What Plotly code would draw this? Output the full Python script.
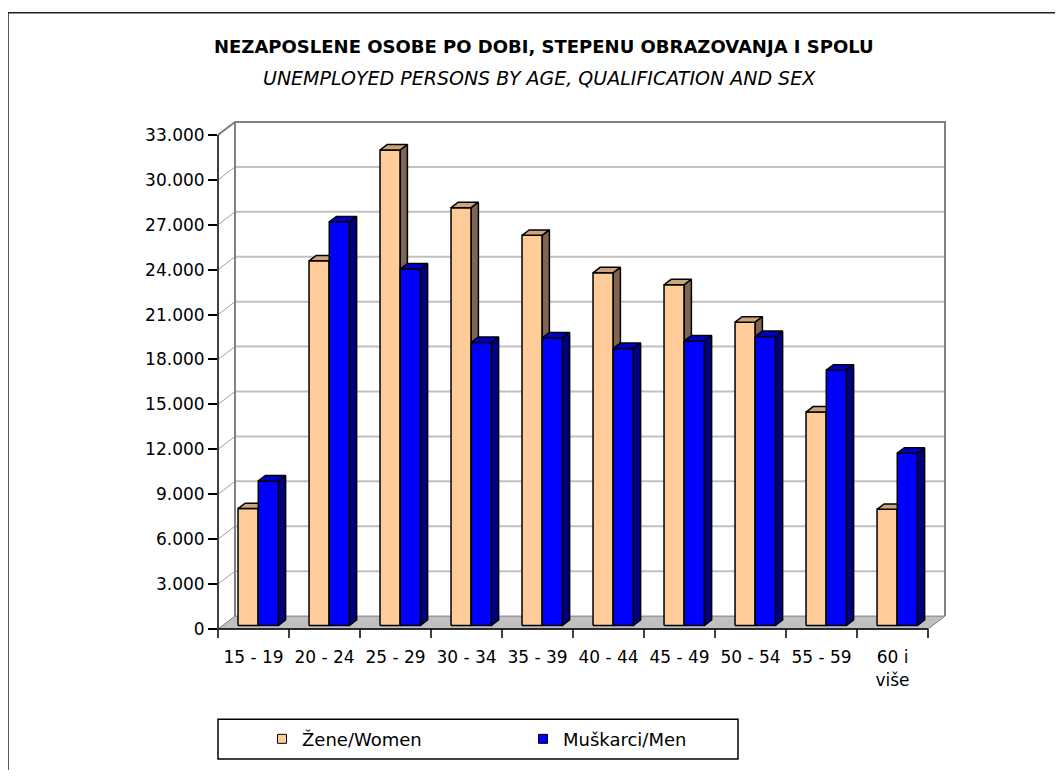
import plotly.graph_objects as go

# ---------------- data ----------------
categories = ["15 - 19", "20 - 24", "25 - 29", "30 - 34", "35 - 39",
              "40 - 44", "45 - 49", "50 - 54", "55 - 59", "60 i<br>više"]
women = [7800, 24350, 31750, 27900, 26050, 23550, 22750, 20250, 14250, 7750]
men = [9650, 26950, 23800, 18900, 19200, 18500, 19000, 19300, 17050, 11500]
series_names = ["Žene/Women", "Muškarci/Men"]
y_ticks = list(range(0, 33001, 3000))
y_tick_labels = [f"{v:,}".replace(",", ".") for v in y_ticks]
title_line1 = "NEZAPOSLENE OSOBE PO DOBI, STEPENU OBRAZOVANJA I SPOLU"
title_line2 = "UNEMPLOYED PERSONS BY AGE, QUALIFICATION AND SEX"

# ---------------- geometry (screen pixel layout of the pseudo-3D frame) ----------------
SCREEN_W, SCREEN_H = 1063, 778
BODY = 8                                   # default page body margin
FIG_W, FIG_H = SCREEN_W - 2 * BODY, SCREEN_H - 2 * BODY
L, B = 218, 633            # front-left axis x, floor front y (screen pixels)
CAT_PX = 71                # pixels per category
DXP, DYP = 17, 13          # wall depth offset in pixels
Y_SCALE = (633 - 135) / 33000.0   # pixels per unit

DX = DXP / CAT_PX
DY = DYP / Y_SCALE
XMIN = -0.5
XFRONT = len(categories) - 0.5
XMAX = XFRONT + DX
YTOP = y_ticks[-1] + DY
R = L + CAT_PX * (XMAX - XMIN)
T = B - YTOP * Y_SCALE


def pxp(x):  # data x -> paper
    return (x - XMIN) / (XMAX - XMIN)


def pyp(y):  # data y -> paper
    return y / YTOP


def ppx(px):  # screen pixel x -> paper
    return (px - L) / (R - L)


def ppy(py):  # screen pixel y -> paper
    return (B - py) / (B - T)


fig = go.Figure()

# ---------------- bars (pseudo-3D prisms) ----------------
D0, D1 = 0.28, 0.70        # front/back depth fraction of the bars
BW = 0.285                 # bar width in category units
colors = [
    {"front": "#FFCC99", "top": "#CCA37A", "side": "#806650"},
    {"front": "#0000FF", "top": "#0000CC", "side": "#000080"},
]
offsets = [-BW, 0.0]

for i, cat in enumerate(categories):
    for s, vals in enumerate([women, men]):
        v = vals[i]
        xl = i + offsets[s]
        xr = xl + BW
        fx0, fy0 = D0 * DX, D0 * DY
        bx0, by0 = D1 * DX, D1 * DY
        faces = [
            ("front", [xl + fx0, xr + fx0, xr + fx0, xl + fx0, xl + fx0],
                      [fy0, fy0, v + fy0, v + fy0, fy0]),
            ("top", [xl + fx0, xr + fx0, xr + bx0, xl + bx0, xl + fx0],
                    [v + fy0, v + fy0, v + by0, v + by0, v + fy0]),
            ("side", [xr + fx0, xr + bx0, xr + bx0, xr + fx0, xr + fx0],
                     [fy0, by0, v + by0, v + fy0, fy0]),
        ]
        for face, xs, ys in faces:
            fig.add_trace(go.Scatter(
                x=xs, y=ys, mode="lines", fill="toself",
                fillcolor=colors[s][face],
                line=dict(color="black", width=1.5),
                showlegend=False,
                hoverinfo="skip" if face != "front" else "text",
                hovertext=f"{cat.replace('<br>', ' ')}: {v:,}".replace(",", ".") + f" ({series_names[s]})",
            ))

# legend entries
for s, name in enumerate(series_names):
    fig.add_trace(go.Scatter(
        x=[None], y=[None], mode="markers", name=name,
        marker=dict(symbol="square", size=9, color=colors[s]["front"],
                    line=dict(color="black", width=1)),
    ))

# ---------------- frame shapes ----------------
shapes = []
GRID = "#C0C0C0"
WALL = "#808080"

# outer border
shapes.append(dict(type="rect", xref="paper", yref="paper",
                   x0=ppx(8), x1=ppx(SCREEN_W + 30), y0=ppy(12), y1=ppy(SCREEN_H + 30),
                   line=dict(color="#202020", width=1.5), layer="below"))

# floor
fl = [(XMIN, 0), (XFRONT, 0), (XFRONT + DX, DY), (XMIN + DX, DY)]
path = "M " + " L ".join(f"{pxp(x)},{pyp(y)}" for x, y in fl) + " Z"
shapes.append(dict(type="path", xref="paper", yref="paper", path=path,
                   fillcolor="#C0C0C0", line=dict(color=WALL, width=1), layer="below"))

# back wall gridlines
for v in y_ticks[1:-1]:
    shapes.append(dict(type="line", xref="paper", yref="paper",
                       x0=pxp(XMIN + DX), x1=pxp(XMAX), y0=pyp(v + DY), y1=pyp(v + DY),
                       line=dict(color=GRID, width=2), layer="below"))
# side wall diagonal gridlines
for v in y_ticks[1:-1]:
    shapes.append(dict(type="line", xref="paper", yref="paper",
                       x0=pxp(XMIN), x1=pxp(XMIN + DX), y0=pyp(v), y1=pyp(v + DY),
                       line=dict(color="#A0A0A0", width=1), layer="below"))
# side wall top edge
shapes.append(dict(type="line", xref="paper", yref="paper",
                   x0=pxp(XMIN), x1=pxp(XMIN + DX), y0=pyp(y_ticks[-1]), y1=pyp(YTOP),
                   line=dict(color=WALL, width=2), layer="below"))
# back wall border (left, top, right)
shapes.append(dict(type="path", xref="paper", yref="paper",
                   path=f"M {pxp(XMIN + DX)},{pyp(DY)} L {pxp(XMIN + DX)},{pyp(YTOP)} "
                        f"L {pxp(XMAX)},{pyp(YTOP)} L {pxp(XMAX)},{pyp(DY)}",
                   line=dict(color=WALL, width=2), layer="below"))
# front value axis line
shapes.append(dict(type="line", xref="paper", yref="paper",
                   x0=pxp(XMIN), x1=pxp(XMIN), y0=pyp(0), y1=pyp(y_ticks[-1]),
                   line=dict(color="black", width=1.5), layer="below"))
# front category axis line
shapes.append(dict(type="line", xref="paper", yref="paper",
                   x0=pxp(XMIN), x1=pxp(XFRONT), y0=pyp(0), y1=pyp(0),
                   line=dict(color="black", width=1.5), layer="below"))
# category boundary ticks
for k in range(len(categories) + 1):
    xk = XMIN + k
    shapes.append(dict(type="line", xref="paper", yref="paper",
                       x0=pxp(xk), x1=pxp(xk), y0=pyp(0), y1=ppy(B + 9),
                       line=dict(color="black", width=1.5), layer="below"))
# legend box
shapes.append(dict(type="rect", xref="paper", yref="paper",
                   x0=ppx(218), x1=ppx(738), y0=ppy(724), y1=ppy(764),
                   line=dict(color="black", width=1.5), layer="below"))

FONT = "DejaVu Sans"

fig.update_layout(
    width=FIG_W, height=FIG_H, autosize=False,
    margin=dict(l=L - BODY, r=FIG_W - (R - BODY), t=T - BODY, b=FIG_H - (B - BODY), pad=0),
    paper_bgcolor="white", plot_bgcolor="rgba(0,0,0,0)",
    shapes=shapes,
    showlegend=True,
    legend=dict(orientation="h", x=ppx(262), xanchor="left",
                y=ppy(744), yanchor="middle",
                font=dict(family=FONT, size=18, color="black"),
                entrywidth=216, entrywidthmode="pixels",
                bgcolor="rgba(0,0,0,0)", borderwidth=0),
    annotations=[
        dict(text=f"<b>{title_line1}</b>", xref="paper", yref="paper",
             x=ppx(544), y=ppy(46), xanchor="center", yanchor="middle",
             showarrow=False, font=dict(family=FONT, size=18, color="black")),
        dict(text=f"<i>{title_line2}</i>", xref="paper", yref="paper",
             x=ppx(539), y=ppy(78), xanchor="center", yanchor="middle",
             showarrow=False, font=dict(family=FONT, size=19, color="black")),
    ],
    xaxis=dict(range=[XMIN, XMAX], tickvals=list(range(len(categories))),
               ticktext=categories, ticks="outside", ticklen=13,
               tickcolor="rgba(0,0,0,0)", showgrid=False, zeroline=False,
               showline=False, fixedrange=True,
               tickfont=dict(family=FONT, size=17, color="black")),
    yaxis=dict(range=[0, YTOP], tickvals=y_ticks, ticktext=y_tick_labels,
               ticks="outside", ticklen=9, tickwidth=1.5, tickcolor="black",
               showgrid=False, zeroline=False, showline=False, fixedrange=True,
               tickfont=dict(family=FONT, size=17, color="black")),
)

fig.write_html("out.html")
